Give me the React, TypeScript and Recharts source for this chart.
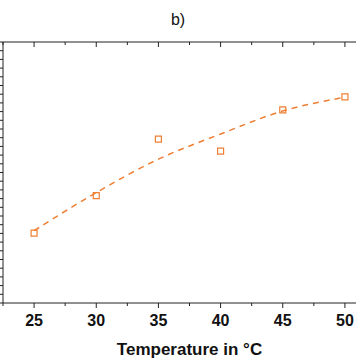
import React from 'react';
import { ComposedChart, Line, Scatter, XAxis, YAxis, ZAxis } from 'recharts';

const temperatures = [25, 30, 35, 40, 45, 50];
const measured = [8.04, 12.35, 18.84, 17.46, 22.19, 23.69];
const fitted = [8.31, 12.69, 16.53, 19.42, 22.07, 23.65];
const xTicks = [22.5, 25, 27.5, 30, 32.5, 35, 37.5, 40, 42.5, 45, 47.5, 50, 52.5];
const majorTicks = [25, 30, 35, 40, 45, 50];
const yTicks = [0, 1, 2, 3, 4, 5, 6, 7, 8, 9, 10, 11, 12, 13, 14, 15, 16, 17, 18, 19, 20, 21, 22, 23, 24, 25, 26, 27, 28, 29, 30];

const data = temperatures.map((t, i) => ({ t, meas: measured[i], fit: fitted[i] }));

const ORANGE = '#EE7F33';
const AXIS = '#222';
const FONT = '"Liberation Sans", Arial, sans-serif';

const BottomTick = (props: any) => {
  const { x, y, payload } = props;
  const major = majorTicks.includes(payload.value);
  return (
    <g>
      <line x1={x} x2={x} y1={y} y2={y + (major ? 5 : 3)} stroke={AXIS} strokeWidth={1} />
      {major && (
        <text x={x} y={y + 12} dy="0.71em" textAnchor="middle" fontFamily={FONT} fontWeight="bold" fontSize={16} fill="#111">
          {payload.value}
        </text>
      )}
    </g>
  );
};

const TopTick = (props: any) => {
  const { x, y, payload } = props;
  const major = majorTicks.includes(payload.value);
  return <line x1={x} x2={x} y1={y} y2={y + (major ? 5 : 3)} stroke={AXIS} strokeWidth={1} />;
};

export default function App() {
  return (
    <div style={{ position: 'absolute', left: 0, top: 0, width: 356, height: 364, overflow: 'hidden', background: '#fff' }}>
      <div
        style={{
          position: 'absolute',
          left: 0,
          top: 12,
          width: 356,
          textAlign: 'center',
          fontFamily: FONT,
          fontSize: 16,
          lineHeight: '16px',
          color: '#111',
        }}
      >
        b)
      </div>
      <ComposedChart width={380} height={364} data={data} margin={{ top: 40, right: 4, bottom: 0, left: 0 }}>
        <ZAxis range={[36, 36]} />
        <XAxis
          xAxisId="top"
          orientation="top"
          dataKey="t"
          type="number"
          domain={[22.5, 52.5]}
          ticks={xTicks}
          interval={0}
          height={2}
          tickSize={0}
          tickMargin={0}
          tickLine={false}
          tick={<TopTick />}
          axisLine={{ stroke: AXIS, strokeWidth: 1 }}
        />
        <XAxis
          dataKey="t"
          type="number"
          domain={[22.5, 52.5]}
          ticks={xTicks}
          interval={0}
          height={61}
          tickSize={0}
          tickMargin={0}
          tickLine={false}
          tick={<BottomTick />}
          axisLine={{ stroke: AXIS, strokeWidth: 1 }}
          label={{ value: 'Temperature in °C', position: 'insideBottom', offset: 9, fontFamily: FONT, fontWeight: 'bold', fontSize: 17, fill: '#111' }}
        />
        <YAxis
          type="number"
          domain={[0, 30]}
          ticks={yTicks}
          interval={0}
          width={3}
          tickSize={3}
          tickFormatter={() => ''}
          tickLine={{ stroke: AXIS, strokeWidth: 1 }}
          axisLine={{ stroke: AXIS, strokeWidth: 1 }}
        />
        <Line
          dataKey="fit"
          type="monotone"
          stroke={ORANGE}
          strokeWidth={1.5}
          strokeDasharray="6 5"
          dot={false}
          activeDot={false}
          isAnimationActive={false}
        />
        <Scatter
          dataKey="meas"
          shape="square"
          fill="none"
          stroke={ORANGE}
          strokeWidth={1.2}
          isAnimationActive={false}
        />
      </ComposedChart>
    </div>
  );
}
